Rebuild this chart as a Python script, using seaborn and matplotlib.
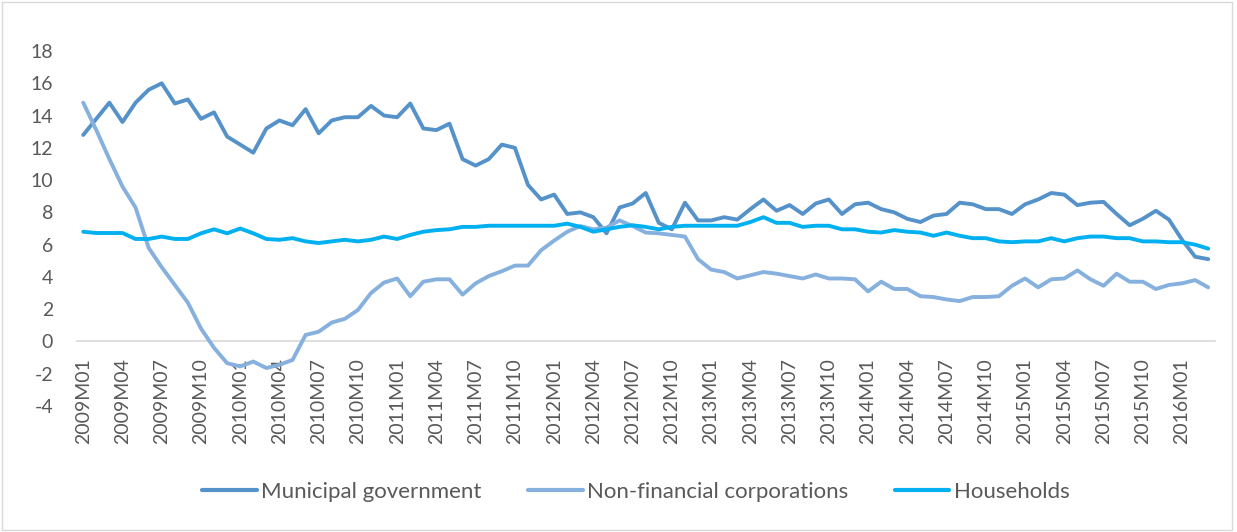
import matplotlib
matplotlib.use("Agg")
import matplotlib.pyplot as plt
import seaborn as sns
import pandas as pd
from matplotlib.patches import Rectangle

start_year = 2009
n_months = 87
periods = [f"{start_year + k // 12}M{k % 12 + 1:02d}" for k in range(n_months)]

municipal = [12.8, 13.8, 14.8, 13.6, 14.8, 15.6, 16.0, 14.75, 15.0, 13.8, 14.2, 12.7,
             12.2, 11.7, 13.2, 13.7, 13.4, 14.4, 12.9, 13.7, 13.9, 13.9, 14.6, 14.0,
             13.9, 14.75, 13.2, 13.1, 13.5, 11.3, 10.9, 11.3, 12.2, 12.0, 9.7, 8.8,
             9.1, 7.9, 8.0, 7.7, 6.7, 8.3, 8.55, 9.2, 7.35, 6.95, 8.6, 7.5,
             7.5, 7.7, 7.55, 8.2, 8.8, 8.1, 8.45, 7.9, 8.55, 8.8, 7.9, 8.5,
             8.6, 8.2, 8.0, 7.6, 7.4, 7.8, 7.9, 8.6, 8.5, 8.2, 8.2, 7.9,
             8.5, 8.8, 9.2, 9.1, 8.45, 8.6, 8.65, 7.9, 7.2, 7.6, 8.1, 7.55,
             6.3, 5.25, 5.1]

non_financial = [14.8, 13.1, 11.3, 9.6, 8.3, 5.8, 4.6, 3.5, 2.4, 0.8, -0.4, -1.35,
                 -1.55, -1.25, -1.65, -1.45, -1.15, 0.4, 0.6, 1.17, 1.4, 1.95, 3.0, 3.65,
                 3.9, 2.8, 3.7, 3.85, 3.85, 2.9, 3.6, 4.05, 4.35, 4.7, 4.7, 5.65,
                 6.25, 6.8, 7.15, 6.95, 7.05, 7.5, 7.15, 6.75, 6.7, 6.6, 6.5, 5.1,
                 4.45, 4.3, 3.9, 4.1, 4.3, 4.2, 4.05, 3.9, 4.15, 3.9, 3.9, 3.85,
                 3.1, 3.7, 3.25, 3.25, 2.8, 2.75, 2.6, 2.5, 2.75, 2.75, 2.8, 3.45,
                 3.9, 3.35, 3.85, 3.9, 4.4, 3.85, 3.45, 4.2, 3.7, 3.7, 3.25, 3.5,
                 3.6, 3.8, 3.35]

households = [6.8, 6.72, 6.72, 6.72, 6.35, 6.35, 6.5, 6.35, 6.35, 6.7, 6.95, 6.7,
              7.0, 6.7, 6.35, 6.3, 6.4, 6.2, 6.1, 6.2, 6.3, 6.2, 6.3, 6.5,
              6.35, 6.6, 6.8, 6.9, 6.95, 7.1, 7.1, 7.17, 7.17, 7.17, 7.17, 7.17,
              7.17, 7.3, 7.1, 6.8, 6.95, 7.1, 7.2, 7.1, 6.95, 7.1, 7.17, 7.17,
              7.17, 7.17, 7.17, 7.4, 7.7, 7.35, 7.35, 7.1, 7.17, 7.17, 6.95, 6.95,
              6.8, 6.75, 6.9, 6.8, 6.75, 6.55, 6.75, 6.55, 6.4, 6.4, 6.2, 6.15,
              6.2, 6.2, 6.4, 6.2, 6.4, 6.5, 6.5, 6.4, 6.4, 6.2, 6.2, 6.15,
              6.15, 6.0, 5.75]

series_names = ["Municipal government", "Non-financial corporations", "Households"]
series_colors = ["#5592CA", "#86B0DE", "#00B0F0"]

rows = []
for name, vals in zip(series_names, [municipal, non_financial, households]):
    for i, v in enumerate(vals):
        rows.append({"idx": i, "period": periods[i], "value": v, "series": name})
df = pd.DataFrame(rows)

sns.set_style("white")
plt.rcParams["font.family"] = ["Lato", "DejaVu Sans"]

fig = plt.figure(figsize=(12.37, 5.32), dpi=100)
ax = fig.add_axes([0.062, 0.237, 0.920, 0.667])

sns.lineplot(data=df, x="idx", y="value", hue="series", hue_order=series_names,
             palette=series_colors, linewidth=2.8, ax=ax, legend=True)

for s in ["top", "right", "left"]:
    ax.spines[s].set_visible(False)
ax.spines["bottom"].set_position(("data", 0))
ax.spines["bottom"].set_color("#D9D9D9")
ax.spines["bottom"].set_linewidth(1.2)
ax.spines["bottom"].set_zorder(0)

ax.set_xlim(-0.5, n_months - 0.5)
ax.set_ylim(-4, 18)
ax.set_yticks(range(-4, 19, 2))
ax.set_yticklabels([str(v) for v in range(-4, 19, 2)])
tick_pos = list(range(0, n_months, 3))
ax.set_xticks(tick_pos)
ax.set_xticklabels([periods[i] for i in tick_pos])

ax.tick_params(axis="x", length=0, pad=12, labelsize=14, labelcolor="#595959",
               labelrotation=90)
ax.tick_params(axis="y", length=0, pad=17, labelsize=14, labelcolor="#595959")
for lab in ax.get_xticklabels():
    lab.set_ha("center")
    lab.set_va("top")
ax.set_xlabel("")
ax.set_ylabel("")
ax.grid(False)

handles, labels = ax.get_legend_handles_labels()
ax.get_legend().remove()
leg = fig.legend(handles, labels, loc="center", bbox_to_anchor=(0.514, 0.075), ncol=3,
                 frameon=False, fontsize=16, handlelength=2.45, handletextpad=0.2,
                 columnspacing=2.1)
for t in leg.get_texts():
    t.set_color("#595959")
for l in leg.get_lines():
    l.set_linewidth(3.0)

fig.patches.append(Rectangle((0.002, 0.003), 0.994, 0.994, transform=fig.transFigure,
                             fill=False, edgecolor="#D9D9D9", linewidth=1.0))

fig.savefig("out.png", dpi=100, facecolor="white")
